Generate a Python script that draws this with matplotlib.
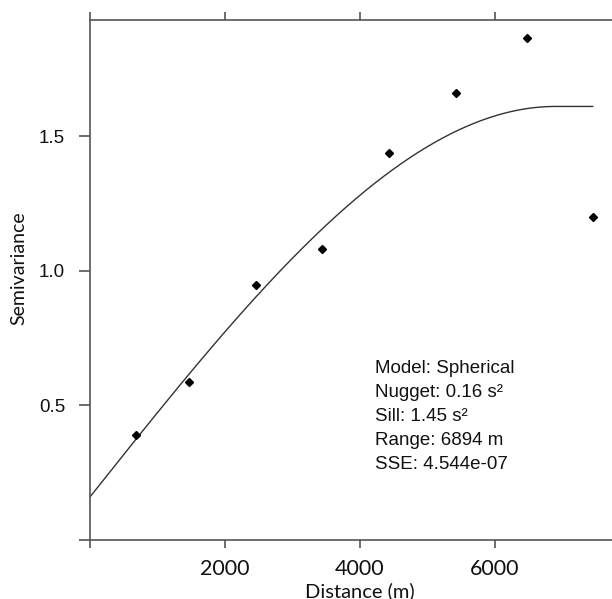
import numpy as np
import matplotlib
matplotlib.use("Agg")
import matplotlib.pyplot as plt

lag_distance = [681, 1467, 2459, 3437, 4430, 5422, 6478, 7447]
semivariance = [0.391, 0.586, 0.946, 1.081, 1.436, 1.660, 1.864, 1.201]

# Fitted model parameters (as shown in the annotation)
nugget = 0.16
partial_sill = 1.45
model_range = 6894.0

x_ticks = [0, 2000, 4000, 6000]
x_tick_labels = ["", "2000", "4000", "6000"]
y_ticks = [0, 0.5, 1.0, 1.5]
y_tick_labels = ["", "0.5", "1.0", "1.5"]

annotation_lines = [
    "Model: Spherical",
    "Nugget: 0.16 s\u00b2",
    "Sill: 1.45 s\u00b2",
    "Range: 6894 m",
    "SSE: 4.544e-07",
]


def spherical(h):
    h = np.asarray(h, dtype=float)
    r = h / model_range
    g = nugget + partial_sill * (1.5 * r - 0.5 * r ** 3)
    return np.where(h < model_range, g, nugget + partial_sill)


fig = plt.figure(figsize=(6.12, 5.99), dpi=100)
W, H = 612, 599
left, right, top, bottom = 90, 612, 20, 540
ax = fig.add_axes([left / W, 1 - bottom / H, (right - left) / W, (bottom - top) / H])

h = np.linspace(0, max(lag_distance), 400)
ax.plot(h, spherical(h), color="#333333", lw=1.0)
ax.plot(lag_distance, semivariance, linestyle="none", marker="D", ms=3.6,
        color="black")

ax.set_xlim(0, 7733)
ax.set_ylim(0, 1.931)

spine_col = "#555555"
for s in ["left", "bottom", "top"]:
    ax.spines[s].set_color(spine_col)
    ax.spines[s].set_linewidth(1.2)
ax.spines["right"].set_visible(False)

ax.set_xticks(x_ticks)
ax.set_xticklabels(x_tick_labels, fontsize=15.5, family="Lato", color="#111111")
ax.set_yticks(y_ticks)
ax.set_yticklabels(y_tick_labels, fontsize=13.5, family="Liberation Sans", color="#111111")
ax.tick_params(axis="x", which="both", direction="out", length=6, width=1.2,
               color=spine_col, top=True, labeltop=False, pad=8)
ax.tick_params(axis="y", which="both", direction="out", length=8, width=1.2,
               color=spine_col, pad=10)

# axis titles placed in figure pixels
fig.text(360 / W, 1 - 591 / H, "Distance (m)", fontsize=14.5, family="Lato",
         color="#111111", ha="center", va="center")
fig.text(18.5 / W, 1 - 268.5 / H, "Semivariance", fontsize=14, family="Lato",
         color="#111111", ha="center", va="center", rotation=90)

for i, line in enumerate(annotation_lines):
    ax.text((375 - left) / (right - left), 1 - (373 + 24 * i - top) / (bottom - top),
            line, transform=ax.transAxes, fontsize=13.5, family="Liberation Sans",
            color="#111111", va="baseline", ha="left")

fig.savefig("out.png", dpi=100)
